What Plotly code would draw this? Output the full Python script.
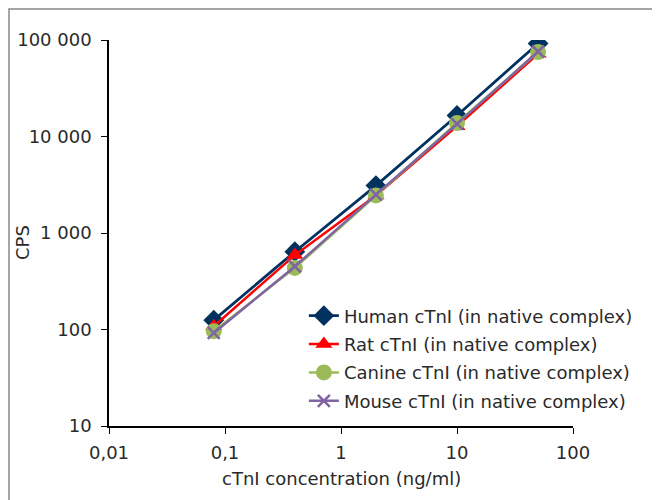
import plotly.graph_objects as go

conc = [0.08, 0.4, 2, 10, 50]
human = [125, 640, 3100, 16500, 92000]
rat = [108, 590, 2450, 12800, 72000]
canine = [96, 435, 2450, 13800, 75000]
mouse = [92, 450, 2500, 13500, 76000]

names = ["Human cTnI (in native complex)", "Rat cTnI (in native complex)",
         "Canine cTnI (in native complex)", "Mouse cTnI (in native complex)"]
xtick_vals = [0.01, 0.1, 1, 10, 100]
xtick_text = ["0,01", "0,1", "1", "10", "100"]
ytick_vals = [10, 100, 1000, 10000, 100000]
ytick_text = ["10", "100", "1 000", "10 000", "100 000"]
x_title = "cTnI concentration (ng/ml)"
y_title = "CPS"

FONT = "DejaVu Sans"
FS = 18
TXT = "#2a2a2a"
fig = go.Figure()
styles = [
    (human, "#00325f", "diamond", 16, 2.8),
    (rat, "#ff0000", "triangle-up", 15, 2.5),
    (canine, "#9bbb59", "circle", 16, 2.5),
    (mouse, "#8064a2", "x-thin-open", 12, 2.5),
]
for i, ((ys, col, sym, sz, lw), nm) in enumerate(zip(styles, names)):
    fig.add_trace(go.Scatter(
        x=conc, y=ys, name=nm, mode="lines+markers", legendgroup=f"g{i}",
        line=dict(color=col, width=lw),
        marker=dict(symbol=sym, size=sz, color=col,
                    line=dict(color=col, width=2.5 if sym.startswith("x") else 0)),
    ))

fig.update_layout(
    width=660, height=500,
    margin=dict(l=101, r=95, t=32, b=82),
    paper_bgcolor="white", plot_bgcolor="white",
    font=dict(family=FONT, size=FS, color=TXT),
    showlegend=True,
    legend=dict(x=0.42, y=0.333, xanchor="left", yanchor="top",
                bgcolor="rgba(0,0,0,0)", font=dict(size=FS, family=FONT, color=TXT),
                traceorder="grouped", tracegroupgap=2, itemwidth=30),
    xaxis=dict(type="log", range=[-2, 2], tickvals=xtick_vals, ticktext=xtick_text,
               showline=True, linecolor="black", linewidth=1.5, ticks="outside",
               ticklen=6, tickcolor="black", showgrid=False, zeroline=False,
               automargin=False, ticklabelstandoff=4,
               tickfont=dict(size=FS, color=TXT)),
    yaxis=dict(type="log", range=[1, 5], tickvals=ytick_vals, ticktext=ytick_text,
               showline=True, linecolor="black", linewidth=1.5, ticks="outside",
               ticklen=6, tickcolor="black", showgrid=False, zeroline=False,
               automargin=False, ticklabelstandoff=6,
               tickfont=dict(size=FS, color=TXT)),
    annotations=[
        dict(text=x_title, xref="paper", yref="paper", x=0.5, y=-0.135,
             xanchor="center", yanchor="middle", showarrow=False,
             font=dict(size=FS, color=TXT)),
        dict(text=y_title, xref="paper", yref="paper", x=-0.1875, y=0.474,
             xanchor="center", yanchor="middle", showarrow=False, textangle=-90,
             font=dict(size=FS, color=TXT)),
    ],
    shapes=[dict(type="rect", xref="paper", yref="paper", x0=-0.2155, x1=1.181,
                 y0=-0.35, y1=1.08, line=dict(color="#888888", width=1.5))],
)
fig.write_html("out.html")
